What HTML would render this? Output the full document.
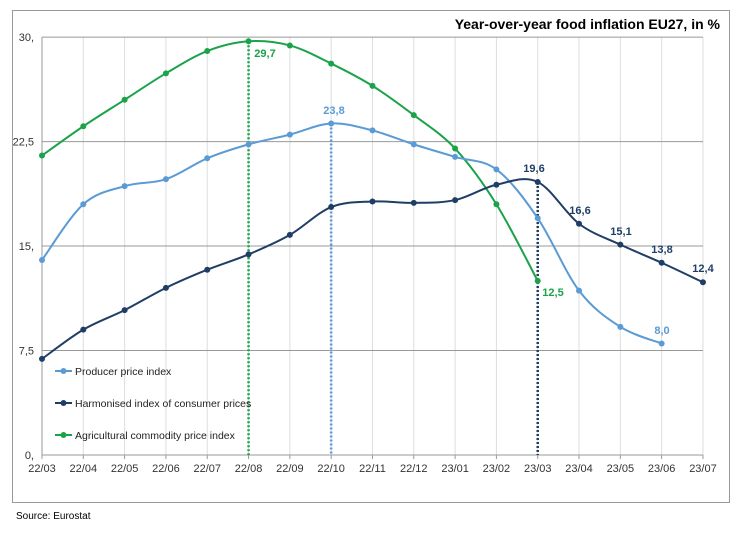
<!DOCTYPE html>
<html><head><meta charset="utf-8"><style>
body{margin:0;background:#fff;}
svg{display:block;font-family:"Liberation Sans",sans-serif;}
</style></head><body>
<svg id="s" width="752" height="535" viewBox="0 0 752 535" xmlns="http://www.w3.org/2000/svg"></svg>
<script>
const s=document.getElementById('s');
const X=i=>42+i*41.31, Y=v=>455-v*13.93;
let h='<rect x="12.5" y="10.5" width="717" height="492" fill="#fff" stroke="#999"/>';
h+='<text x="720" y="29" text-anchor="end" font-size="14" font-weight="bold" fill="#000">Year-over-year food inflation EU27, in %</text>';
for(let i=1;i<=16;i++)h+=`<line x1="${X(i)}" y1="37" x2="${X(i)}" y2="455" stroke="#ddd"/>`;
[30,22.5,15,7.5].forEach(v=>h+=`<line x1="42" y1="${Y(v)}" x2="703" y2="${Y(v)}" stroke="#999"/>`);
h+='<line x1="42" y1="37" x2="42" y2="455" stroke="#999"/><line x1="42" y1="455" x2="703" y2="455" stroke="#999"/>';
[["30,",30],["22,5",22.5],["15,",15],["7,5",7.5],["0,",0]].forEach(([t,v])=>h+=`<text x="34" y="${Y(v)+4}" text-anchor="end" font-size="11" fill="#333">${t}</text>`);
const lab=["22/03","22/04","22/05","22/06","22/07","22/08","22/09","22/10","22/11","22/12","23/01","23/02","23/03","23/04","23/05","23/06","23/07"];
lab.forEach((t,i)=>{h+=`<text x="${X(i)}" y="472" text-anchor="middle" font-size="11" fill="#333">${t}</text><line x1="${X(i)}" y1="455" x2="${X(i)}" y2="459" stroke="#999"/>`;});
h+='<text x="16" y="519" font-size="10" fill="#000">Source: Eurostat</text>';
const G="#1aa34a",B="#5b9bd5",D="#1f3e66";
const vl=(i,v,c)=>h+=`<line x1="${X(i)}" y1="${Y(v)}" x2="${X(i)}" y2="455" stroke="${c}" stroke-width="2.5" stroke-dasharray="2,2"/>`;
vl(5,29.7,G);vl(7,23.8,B);vl(12,19.6,D);
function path(d,c){let p=d.map((v,i)=>[X(i),Y(v)]);let o=`M${p[0]}`;
for(let i=0;i<p.length-1;i++){const p0=p[i-1]||p[i],p1=p[i],p2=p[i+1],p3=p[i+2]||p2;
o+=` C${p1[0]+(p2[0]-p0[0])/6},${p1[1]+(p2[1]-p0[1])/6} ${p2[0]-(p3[0]-p1[0])/6},${p2[1]-(p3[1]-p1[1])/6} ${p2[0]},${p2[1]}`;}
h+=`<path d="${o}" fill="none" stroke="${c}" stroke-width="2"/>`;p.forEach(q=>h+=`<circle cx="${q[0]}" cy="${q[1]}" r="3" fill="${c}"/>`);}
path([21.5,23.6,25.5,27.4,29.0,29.7,29.4,28.1,26.5,24.4,22.0,18.0,12.5],G);
path([14.0,18.0,19.3,19.8,21.3,22.3,23.0,23.8,23.3,22.3,21.4,20.5,17.0,11.8,9.2,8.0],B);
path([6.9,9.0,10.4,12.0,13.3,14.4,15.8,17.8,18.2,18.1,18.3,19.4,19.6,16.6,15.1,13.8,12.4],D);
const t=(x,y,s,c)=>h+=`<text x="${x}" y="${y}" font-size="11" font-weight="bold" fill="${c}" text-anchor="middle">${s}</text>`;
t(265,57,"29,7",G);t(334,114,"23,8",B);t(534,172,"19,6",D);t(553,296,"12,5",G);
t(580,214,"16,6",D);t(621,235,"15,1",D);t(662,253,"13,8",D);t(703,272,"12,4",D);t(662,334,"8,0",B);
[["Producer price index",B,375],["Harmonised index of consumer prices",D,407],["Agricultural commodity price index",G,439]].forEach(([s,c,y])=>{
h+=`<line x1="55" y1="${y-4}" x2="72" y2="${y-4}" stroke="${c}" stroke-width="2"/><circle cx="63.5" cy="${y-4}" r="3" fill="${c}"/><text x="75" y="${y}" font-size="10.5" fill="#222">${s}</text>`;});
s.innerHTML=h;
</script>
</body></html>
